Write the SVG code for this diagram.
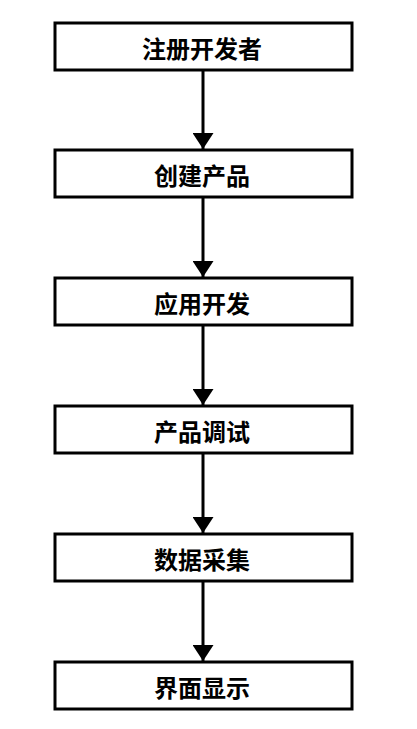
<svg xmlns="http://www.w3.org/2000/svg" width="417" height="729" viewBox="0 0 417 729">
<style>
.box{fill:#fff;stroke:#000;stroke-width:3}
.lbl{font-family:"Noto Sans CJK SC","Noto Sans CJK JP",sans-serif;font-size:24px;font-weight:bold;fill:#000;text-anchor:middle;dominant-baseline:central}
.con{stroke:#000;stroke-width:3;fill:none;marker-end:url(#arr)}
</style>
<defs>
<marker id="arr" viewBox="0 0 16 21" refX="16" refY="10.5" markerWidth="16" markerHeight="21" markerUnits="userSpaceOnUse" orient="auto">
<path d="M0,0 L16,10.5 L0,21 z" fill="#000"/>
</marker>
</defs>
<rect width="417" height="729" fill="#fff"/>
<g id="connectors">
<line class="con" x1="203" y1="71" x2="203" y2="149"/>
<line class="con" x1="203" y1="198" x2="203" y2="277"/>
<line class="con" x1="203" y1="326" x2="203" y2="405"/>
<line class="con" x1="203" y1="454" x2="203" y2="533"/>
<line class="con" x1="203" y1="582" x2="203" y2="661"/>
</g>
<g id="n1"><rect class="box" x="55" y="23" width="297" height="47"/><text class="lbl" x="202" y="47">注册开发者</text></g>
<g id="n2"><rect class="box" x="55" y="150" width="297" height="47"/><text class="lbl" x="202" y="174">创建产品</text></g>
<g id="n3"><rect class="box" x="55" y="278" width="297" height="47"/><text class="lbl" x="202" y="302">应用开发</text></g>
<g id="n4"><rect class="box" x="55" y="406" width="297" height="47"/><text class="lbl" x="202" y="430">产品调试</text></g>
<g id="n5"><rect class="box" x="55" y="534" width="297" height="47"/><text class="lbl" x="202" y="558">数据采集</text></g>
<g id="n6"><rect class="box" x="55" y="662" width="297" height="47"/><text class="lbl" x="202" y="686">界面显示</text></g>
</svg>
